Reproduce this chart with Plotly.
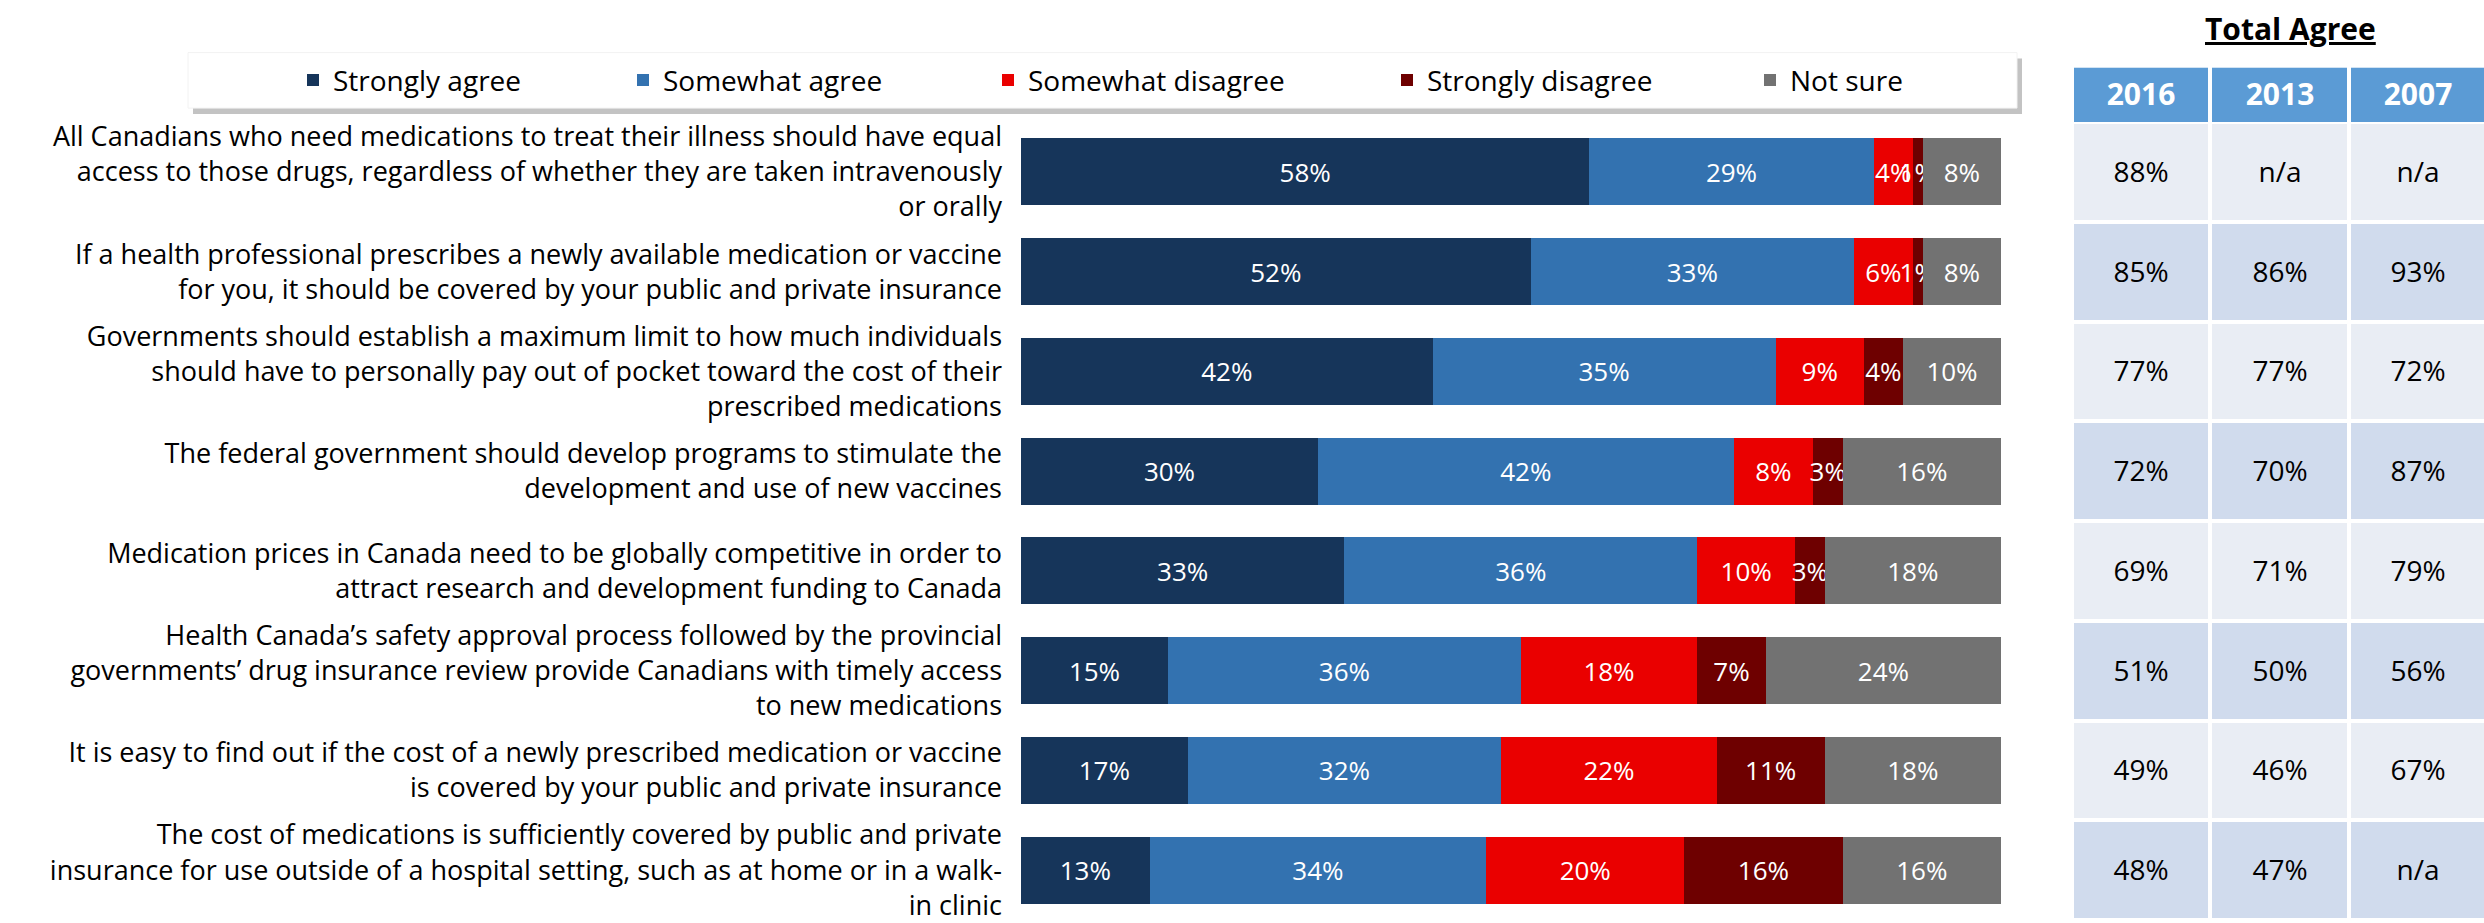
import plotly.graph_objects as go

# --------------------------------------------------------------
# Data
# --------------------------------------------------------------

statements = [
    "All Canadians who need medications to treat their illness should have equal<br>access to those drugs, regardless of whether they are taken intravenously<br>or orally",
    "If a health professional prescribes a newly available medication or vaccine<br>for you, it should be covered by your public and private insurance",
    "Governments should establish a maximum limit to how much individuals<br>should have to personally pay out of pocket toward the cost of their<br>prescribed medications",
    "The federal government should develop programs to stimulate the<br>development and use of new vaccines",
    "Medication prices in Canada need to be globally competitive in order to<br>attract research and development funding to Canada",
    "Health Canada’s safety approval process followed by the provincial<br>governments’ drug insurance review provide Canadians with timely access<br>to new medications",
    "It is easy to find out if the cost of a newly prescribed medication or vaccine<br>is covered by your public and private insurance",
    "The cost of medications is sufficiently covered by public and private<br>insurance for use outside of a hospital setting, such as at home or in a walk-<br>in clinic",
]

answers = ["Strongly agree", "Somewhat agree", "Somewhat disagree", "Strongly disagree", "Not sure"]

strongly_agree = [58, 52, 42, 30, 33, 15, 17, 13]
somewhat_agree = [29, 33, 35, 42, 36, 36, 32, 34]
somewhat_disagree = [4, 6, 9, 8, 10, 18, 22, 20]
strongly_disagree = [1, 1, 4, 3, 3, 7, 11, 16]
not_sure = [8, 8, 10, 16, 18, 24, 18, 16]

years = ["2016", "2013", "2007"]
agree_2016 = ["88%", "85%", "77%", "72%", "69%", "51%", "49%", "48%"]
agree_2013 = ["n/a", "86%", "77%", "70%", "71%", "50%", "46%", "47%"]
agree_2007 = ["n/a", "93%", "72%", "87%", "79%", "56%", "67%", "n/a"]

# --------------------------------------------------------------
# Style
# --------------------------------------------------------------

colors = ["#16355A", "#3372B0", "#EA0000", "#6E0000", "#727272"]
legend_widths = [285, 320, 354, 318, 200]

FONT = "Open Sans"
W, H = 2484, 923

def px_x(p):
    return p / W

def px_y(p):
    return 1 - p / H

# --------------------------------------------------------------
# Stacked bars
# --------------------------------------------------------------

fig = go.Figure()

values = [strongly_agree, somewhat_agree, somewhat_disagree, strongly_disagree, not_sure]
for name, vals, color, lw in zip(answers, values, colors, legend_widths):
    fig.add_trace(go.Bar(
        y=statements, x=vals, name=name, orientation="h",
        marker=dict(color=color, line=dict(width=0)),
        width=0.67,
        text=[f"{v}%" for v in vals],
        textposition="inside", insidetextanchor="middle", textangle=0,
        textfont=dict(color="white", size=26, family=FONT),
        legendwidth=lw,
        hoverinfo="skip",
    ))

# --------------------------------------------------------------
# Total agree table (heatmap sharing the bar y axis)
# --------------------------------------------------------------

cell_text = [[a, b, c] for a, b, c in zip(agree_2016, agree_2013, agree_2007)]
band = [[i % 2] * 3 for i in range(len(statements))]

fig.add_trace(go.Heatmap(
    x=[0, 1, 2], y=statements, z=band, text=cell_text,
    texttemplate="%{text}", textfont=dict(size=28, color="black", family=FONT),
    colorscale=[[0, "#E9EDF4"], [1, "#D0DBED"]], zmin=0, zmax=1,
    xgap=4, ygap=4, showscale=False, hoverinfo="skip", showlegend=False,
    xaxis="x2", yaxis="y",
))

fig.add_trace(go.Heatmap(
    x=[0, 1, 2], y=["hdr"], z=[[0, 0, 0]], text=[years],
    texttemplate="<b>%{text}</b>", textfont=dict(size=30, color="white", family=FONT),
    colorscale=[[0, "#5B9BD5"], [1, "#5B9BD5"]], zmin=0, zmax=1,
    xgap=4, ygap=0, showscale=False, hoverinfo="skip", showlegend=False,
    xaxis="x2", yaxis="y3",
))

# --------------------------------------------------------------
# Legend box (drawn behind the legend)
# --------------------------------------------------------------

shapes = [
    dict(type="rect", xref="paper", yref="paper", layer="below",
         x0=px_x(193), x1=px_x(2022), y0=px_y(110), y1=px_y(54),
         fillcolor="#A9A9A9", line=dict(width=0), opacity=0.7),
    dict(type="rect", xref="paper", yref="paper", layer="below",
         x0=px_x(188), x1=px_x(2017), y0=px_y(104), y1=px_y(48),
         fillcolor="white", line=dict(color="#F2F2F2", width=1)),
]

fig.update_layout(
    width=W, height=H,
    margin=dict(l=0, r=0, t=0, b=0),
    paper_bgcolor="white", plot_bgcolor="white",
    font=dict(family=FONT, size=27, color="black"),
    barmode="stack", barnorm="percent",
    uniformtext=dict(minsize=26, mode="show"),
    showlegend=True,
    legend=dict(
        orientation="h", x=px_x(293), xanchor="left", y=px_y(76), yanchor="middle",
        bgcolor="rgba(0,0,0,0)", font=dict(size=28, family=FONT),
        traceorder="normal",
    ),
    xaxis=dict(domain=[px_x(1021), px_x(2001)], range=[0, 100],
               visible=False, fixedrange=True),
    yaxis=dict(domain=[0, px_y(118)], autorange="reversed",
               showgrid=False, zeroline=False, showline=False, ticks="",
               ticklabelstandoff=18, tickfont=dict(size=27, family=FONT)),
    xaxis2=dict(domain=[px_x(2072), 1], range=[-0.5, 2.475], anchor="y",
                visible=False),
    yaxis3=dict(domain=[px_y(118), px_y(63)], range=[-0.5, 0.5], anchor="x2",
                visible=False),
    shapes=shapes,
    annotations=[dict(
        text="<b><u>Total Agree</u></b>", x=px_x(2290), y=px_y(24),
        xref="paper", yref="paper", showarrow=False,
        xanchor="center", yanchor="middle",
        font=dict(size=30, family=FONT, color="black"),
    )],
)

# page body has a default 8px margin; drop it so the figure sits at 0,0
fig.write_html("out.html", config={"displayModeBar": False},
               post_script="document.body.style.margin='0';")
